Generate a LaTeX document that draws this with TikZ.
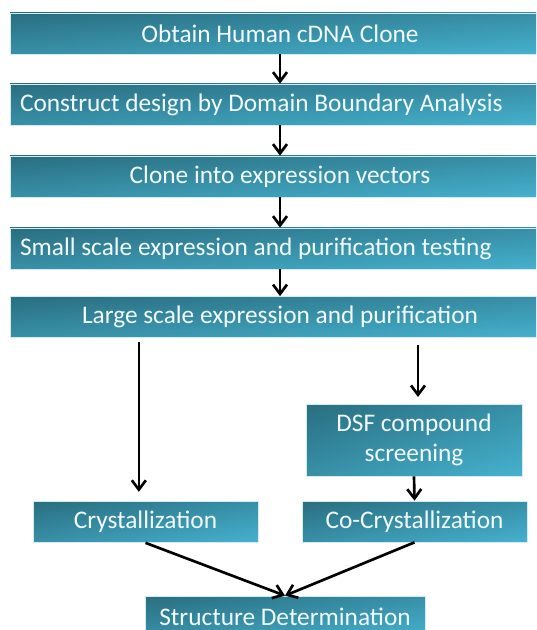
\documentclass[tikz,border=0pt]{standalone}
\usepackage{fontspec}
\setmainfont{Carlito}
\usetikzlibrary{arrows.meta}
\definecolor{tealdark}{HTML}{2A6E80}
\definecolor{teallight}{HTML}{46B2CF}
\tikzset{
  stepbox/.style={left color=tealdark, right color=teallight,
    path picture={\shade[top color=tealdark, bottom color=teallight, fill opacity=0.5]
      (path picture bounding box.south west) rectangle (path picture bounding box.north east);},
    draw=teallight!25!white, line width=0.5pt, text=white!95!cyan,
    font=\fontsize{19}{22.5}\selectfont, minimum height=30.75pt,
    inner sep=0pt, align=center},
  widebox/.style={stepbox, minimum width=405pt},
  longtext/.style={stepbox, text width=390pt, inner xsep=7.5pt, align=flush left},
  arr/.style={-{Straight Barb[length=7pt,width=10.5pt]}, line width=2pt}
}
\begin{document}
\begin{tikzpicture}[x=0.75pt,y=-0.75pt]
  \useasboundingbox (0,0) rectangle (536,630);
  \clip (0,0) rectangle (536,630);

  \node[widebox] (obtain) at (280,33.5) {Obtain Human cDNA Clone};
  \node[longtext] (construct) at (280,104.5) {Construct design by Domain Boundary Analysis};
  \node[widebox] (vectors) at (280,176.5) {Clone into expression vectors};
  \node[longtext] (small) at (280,248.5) {Small scale expression and purification testing};
  \node[widebox] (large) at (280,317) {Large scale expression and purification};

  \node[stepbox, minimum width=162pt, minimum height=54pt] (dsf) at (414,440) {DSF compound\\screening};
  \node[stepbox, minimum width=168.75pt] (cocrys) at (414.5,521.5) {Co-Crystallization};
  \node[stepbox, minimum width=168.75pt] (crys) at (145.5,522) {Crystallization};
  \node[stepbox, minimum width=210pt] (struct) at (285,616.5) {Structure Determination};

  \foreach \a/\b in {obtain/construct,construct/vectors,vectors/small,small/large}
    \draw[arr] (\a.south) -- (\b.north);
  \draw[arr, shorten <=3pt, shorten >=7pt] ([xshift=-5pt]large.south -| crys.north) -- ([xshift=-5pt]crys.north);
  \draw[arr, shorten <=5pt, shorten >=5pt] ([xshift=3pt]large.south -| dsf.north) -- ([xshift=3pt]dsf.north);
  \draw[arr] (dsf.south) -- (cocrys.north);
  \draw[arr] (crys.south) -- (struct.north);
  \draw[arr] (cocrys.south) -- (struct.north);
\end{tikzpicture}
\end{document}
